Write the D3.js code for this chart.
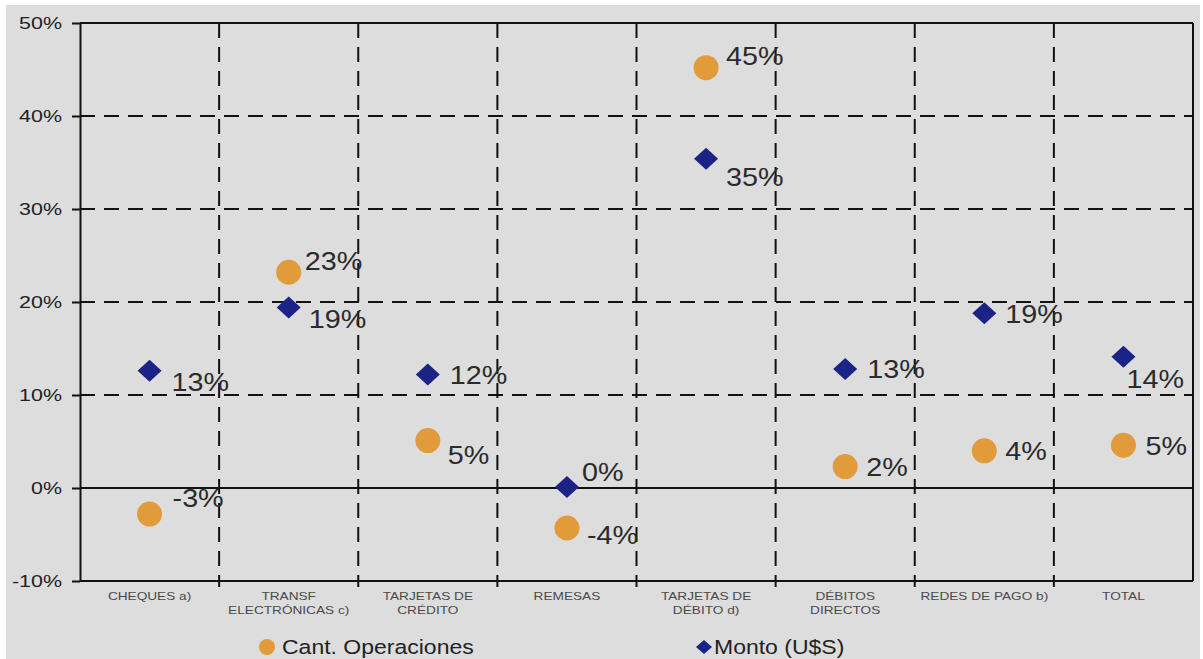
<!DOCTYPE html>
<html>
<head>
<meta charset="utf-8">
<script src="https://cdn.jsdelivr.net/npm/d3@7"></script>
<style>
  html, body { margin: 0; padding: 0; background: #fff; }
  svg text { font-family: "Liberation Sans", Arial, sans-serif; }
</style>
</head>
<body>
<div id="canvas"></div>
<script>
(function () {
  'use strict';
  // data
  const categories = ['CHEQUES a)', 'TRANSF|ELECTRÓNICAS c)', 'TARJETAS DE|CRÉDITO', 'REMESAS',
    'TARJETAS DE|DÉBITO d)', 'DÉBITOS|DIRECTOS', 'REDES DE PAGO b)', 'TOTAL'];
  const cantOperaciones = [-2.8, 23.2, 5.1, -4.3, 45.2, 2.3, 4.0, 4.6];
  const montoUSS = [12.6, 19.4, 12.2, 0.1, 35.4, 12.8, 18.8, 14.1];
  const yTicks = [-10, 0, 10, 20, 30, 40, 50];
  const seriesNames = ['Cant. Operaciones', 'Monto (U$S)'];

  // label placement (pixels from the marker centre)
  const cantLabelOffsets = [[23, -7], [16, -2], [20, 23], [20, 16], [20, -3], [21, 9], [21, 9], [22, 10]];
  const montoLabelOffsets = [[22, 20], [20, 20], [22, 9], [15, -6], [20, 27], [22, 9], [21, 10], [3, 31]];

  const width = 1203;
  const height = 659;
  const left = 80, right = 1193, top = 23, bottom = 581;
  const orange = '#e19b3b';
  const navy = '#1c2387';

  const svg = d3.select('#canvas').append('svg')
    .attr('width', width)
    .attr('height', height);

  // grey backdrop
  svg.append('rect')
    .attr('x', 6).attr('y', 5)
    .attr('width', 1194).attr('height', 654)
    .attr('fill', '#dddddd');

  const x = d3.scaleBand().domain(categories).range([left, right]).padding(0);
  const y = d3.scaleLinear().domain([-10, 50]).range([bottom, top]);
  const cx = c => x(c) + x.bandwidth() / 2;

  // horizontal grid
  svg.append('g').selectAll('line')
    .data(yTicks.filter(t => t !== -10))
    .enter().append('line')
    .attr('x1', left).attr('x2', right)
    .attr('y1', d => y(d)).attr('y2', d => y(d))
    .attr('stroke', '#111')
    .attr('stroke-width', 2)
    .attr('stroke-dasharray', d => (d === 0 || d === 50) ? null : '15,9');

  // vertical dashed dividers
  svg.append('g').selectAll('line')
    .data(categories.slice(1))
    .enter().append('line')
    .attr('x1', d => x(d)).attr('x2', d => x(d))
    .attr('y1', top).attr('y2', bottom)
    .attr('stroke', '#111')
    .attr('stroke-width', 2)
    .attr('stroke-dasharray', '15,9');

  // right border
  svg.append('line')
    .attr('x1', right).attr('x2', right)
    .attr('y1', top).attr('y2', bottom)
    .attr('stroke', '#111').attr('stroke-width', 2);

  // bottom axis line + ticks at category boundaries
  svg.append('line')
    .attr('x1', left).attr('x2', right)
    .attr('y1', bottom).attr('y2', bottom)
    .attr('stroke', '#111').attr('stroke-width', 2);
  svg.append('g').selectAll('line')
    .data(categories.slice(1))
    .enter().append('line')
    .attr('x1', d => x(d)).attr('x2', d => x(d))
    .attr('y1', bottom).attr('y2', bottom + 6)
    .attr('stroke', '#111').attr('stroke-width', 2);

  // y axis
  const yAxis = d3.axisLeft(y)
    .tickValues(yTicks)
    .tickSize(8)
    .tickSizeOuter(0)
    .tickPadding(10)
    .tickFormat(d => d + '%');
  const yg = svg.append('g')
    .attr('transform', 'translate(' + left + ',0)')
    .call(yAxis);
  yg.select('.domain').attr('stroke', '#111').attr('stroke-width', 2);
  yg.selectAll('.tick line').attr('stroke', '#111').attr('stroke-width', 2);
  yg.selectAll('.tick text')
    .attr('fill', '#222')
    .attr('x', -18 / 1.3)
    .attr('transform', 'scale(1.3,1)')
    .style('font-size', '16.5px')
    .attr('dy', '0.36em');

  // category labels
  const catLabels = svg.append('g').selectAll('text')
    .data(categories)
    .enter().append('text')
    .attr('transform', d => 'translate(' + cx(d) + ',0) scale(1.3,1)')
    .attr('text-anchor', 'middle')
    .attr('fill', '#4a4a4a')
    .style('font-size', '10.5px');
  catLabels.each(function (d) {
    const lines = d.split('|');
    lines.forEach((ln, i) => {
      d3.select(this).append('tspan')
        .attr('x', 0)
        .attr('y', 600 + i * 14)
        .text(ln);
    });
  });

  const diamond = 'M-12,0L0,-11L12,0L0,11Z';
  const fmt = v => Math.round(v) + '%';

  // orange circles
  svg.append('g').selectAll('circle')
    .data(categories)
    .enter().append('circle')
    .attr('cx', d => cx(d))
    .attr('cy', (d, i) => y(cantOperaciones[i]))
    .attr('r', 12.5)
    .attr('fill', orange);

  // navy diamonds
  svg.append('g').selectAll('path')
    .data(categories)
    .enter().append('path')
    .attr('d', diamond)
    .attr('transform', (d, i) => 'translate(' + cx(d) + ',' + y(montoUSS[i]) + ')')
    .attr('fill', navy);

  // value labels
  function addLabels(values, offsets) {
    svg.append('g').selectAll('text')
      .data(categories)
      .enter().append('text')
      .attr('transform', (d, i) => 'translate(' + (cx(d) + offsets[i][0]) + ',' +
        (y(values[i]) + offsets[i][1]) + ') scale(1.15,1)')
      .attr('fill', '#2b2b2b')
      .style('font-size', '25px')
      .text((d, i) => fmt(values[i]));
  }
  addLabels(cantOperaciones, cantLabelOffsets);
  addLabels(montoUSS, montoLabelOffsets);

  // legend
  const legend = svg.append('g');
  legend.append('circle')
    .attr('cx', 267).attr('cy', 647).attr('r', 8)
    .attr('fill', orange);
  legend.append('text')
    .attr('transform', 'translate(282,654) scale(1.18,1)')
    .attr('fill', '#222')
    .style('font-size', '19.5px')
    .text(seriesNames[0]);
  legend.append('path')
    .attr('d', 'M-8,0L0,-7L8,0L0,7Z')
    .attr('transform', 'translate(704,647)')
    .attr('fill', navy);
  legend.append('text')
    .attr('transform', 'translate(714,654) scale(1.18,1)')
    .attr('fill', '#222')
    .style('font-size', '19.5px')
    .text(seriesNames[1]);
}());
</script>
</body>
</html>
